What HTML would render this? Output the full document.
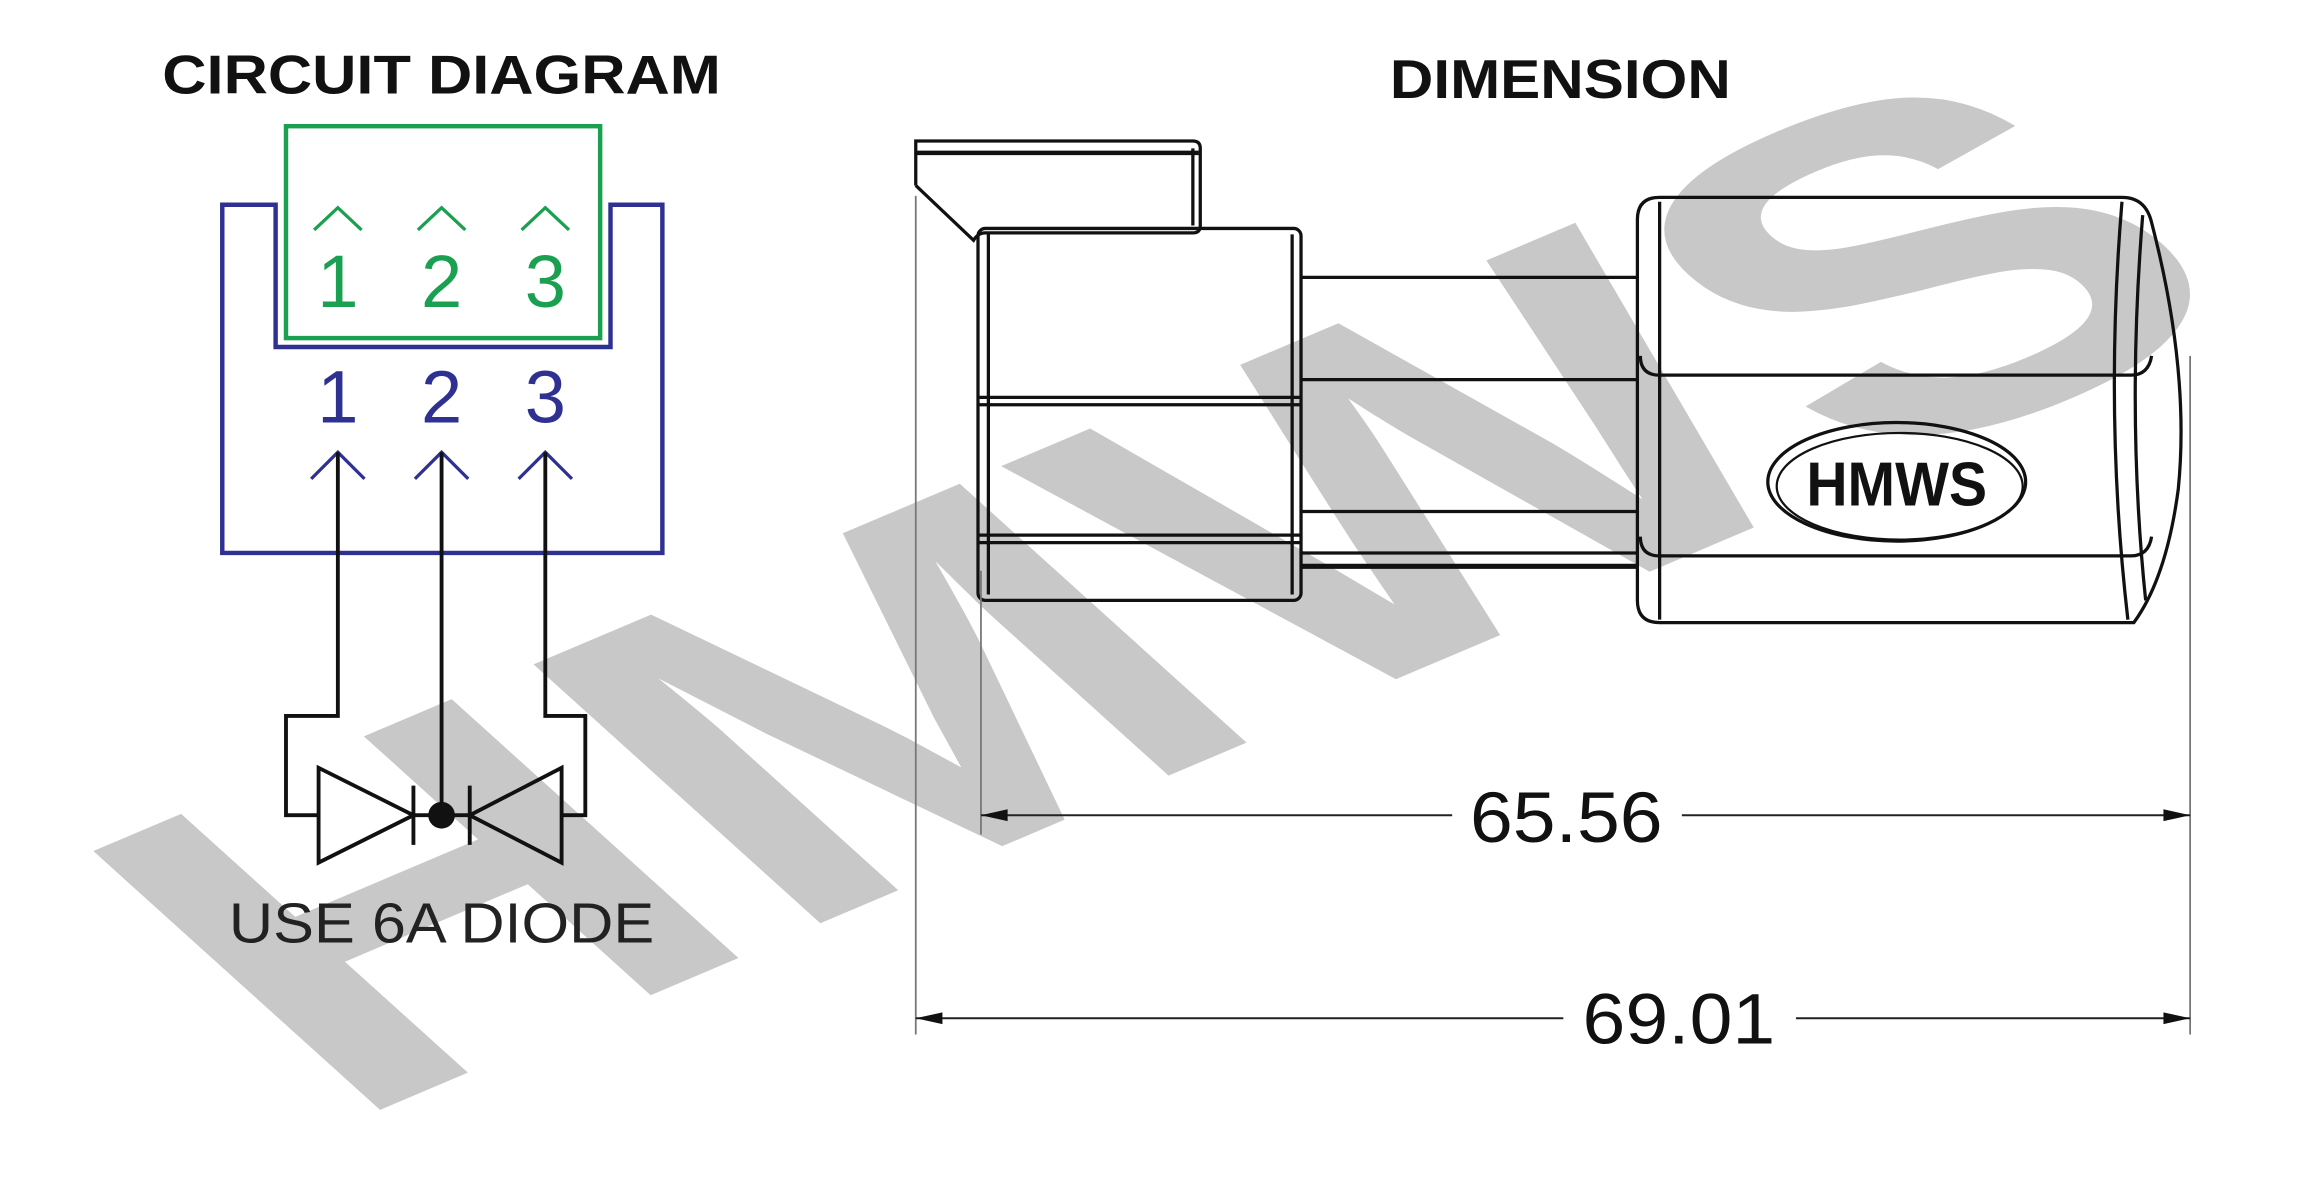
<!DOCTYPE html>
<html><head><meta charset="utf-8"><style>
html,body{margin:0;padding:0;background:#fff;}
svg{display:block;}
</style></head><body>
<svg width="2322" height="1180" viewBox="0 0 1567 796" xmlns="http://www.w3.org/2000/svg">
<rect width="1567" height="796" fill="#fff"/>
<!-- watermark -->
<g transform="scale(1.0222)">
<text transform="matrix(0.92 -0.39 0.637 0.575 224 744)" font-family="Liberation Sans, sans-serif" font-weight="bold" font-size="432" fill="#c8c8c8" textLength="1385" lengthAdjust="spacingAndGlyphs">HMWS</text>
</g>

<!-- titles -->
<text x="298" y="63" text-anchor="middle" font-family="Liberation Sans, sans-serif" font-weight="bold" font-size="37" fill="#111" textLength="377" lengthAdjust="spacingAndGlyphs">CIRCUIT DIAGRAM</text>
<text x="1053" y="66" text-anchor="middle" font-family="Liberation Sans, sans-serif" font-weight="bold" font-size="37" fill="#111" textLength="230" lengthAdjust="spacingAndGlyphs">DIMENSION</text>

<!-- circuit -->
<path d="M150 138 H186 V234 H412 V138 H447 V373 H150 Z" fill="none" stroke="#2e3192" stroke-width="3"/>
<rect x="193" y="85" width="212" height="143" fill="none" stroke="#1aa050" stroke-width="3"/>
<g fill="none" stroke="#1aa050" stroke-width="2.2">
<path d="M212 155 L228 140 L244 155"/><path d="M282 155 L298 140 L314 155"/><path d="M352 155 L368 140 L384 155"/>
</g>
<g font-family="Liberation Sans, sans-serif" font-size="50" fill="#1aa050" text-anchor="middle">
<text x="228" y="207">1</text><text x="298" y="207">2</text><text x="368" y="207">3</text>
</g>
<g font-family="Liberation Sans, sans-serif" font-size="50" fill="#2e3192" text-anchor="middle">
<text x="228" y="285">1</text><text x="298" y="285">2</text><text x="368" y="285">3</text>
</g>
<g fill="none" stroke="#2e3192" stroke-width="2.2">
<path d="M210 323 L228 305 L246 323"/><path d="M280 323 L298 305 L316 323"/><path d="M350 323 L368 305 L386 323"/>
</g>
<g fill="none" stroke="#111" stroke-width="2.6">
<path d="M228 305 V483 H193 V550 H215"/>
<path d="M298 305 V550"/>
<path d="M368 305 V483 H395 V550 H379"/>
<path d="M215 518 V582 L279 550 Z"/>
<path d="M279 530 V570"/>
<path d="M379 518 V582 L317 550 Z"/>
<path d="M317 530 V570"/>
<path d="M279 550 H317"/>
</g>
<circle cx="298" cy="550" r="9" fill="#111"/>
<text x="298" y="636" text-anchor="middle" font-family="Liberation Sans, sans-serif" font-size="38" fill="#222" textLength="287" lengthAdjust="spacingAndGlyphs">USE 6A DIODE</text>

<!-- dimension drawing -->
<g fill="none" stroke="#111" stroke-width="2.2">
<path d="M618 125 V95 H805 Q810 95 810 100 V152 Q810 157 805 157 H665 Q660 157 657 162 L618 125"/>
<path d="M618 103 H809" stroke-width="3"/>
<path d="M805 100 V152"/>
<rect x="660" y="154" width="218" height="251" rx="5"/>
<path d="M667 158 V401 M872 158 V401"/>
<path d="M661 268 H877 M661 273 H877"/>
<path d="M661 361 H877 M661 366 H877"/>
<path d="M878 187 H1105 M878 256 H1105 M878 345 H1105 M878 373 H1105"/>
<path d="M878 382 H1105" stroke-width="3.5"/>
<path d="M1120 133 H1432 Q1448 133 1452 150 Q1478 250 1470 330 Q1462 390 1440 420 H1120 Q1105 420 1105 405 V148 Q1105 133 1120 133 Z"/>
<path d="M1120 136 V418"/>
<path d="M1107 240 Q1107 253 1120 253 H1438 Q1450 253 1452 240"/>
<path d="M1107 362 Q1107 375 1120 375 H1438 Q1450 375 1452 362"/>
<path d="M1432 136 Q1420 280 1436 418"/>
<path d="M1446 145 Q1435 280 1448 405"/>
<ellipse cx="1280" cy="325" rx="87" ry="40"/>
<ellipse cx="1282" cy="328" rx="83" ry="36" stroke-width="1.5"/>
</g>
<text x="1280" y="341" text-anchor="middle" font-family="Liberation Sans, sans-serif" font-weight="bold" font-size="42" fill="#111" textLength="122" lengthAdjust="spacingAndGlyphs">HMWS</text>

<!-- dimension lines -->
<g stroke="#777" stroke-width="1.2" fill="none">
<path d="M618 132 V698 M662 385 V563 M1478 240 V698"/>
</g>
<g stroke="#222" stroke-width="1.3" fill="none">
<path d="M662 550 H980 M1135 550 H1478"/>
<path d="M618 687 H1055 M1212 687 H1478"/>
</g>
<g fill="#111">
<path d="M662 550 L680 546 L680 554 Z"/><path d="M1478 550 L1460 546 L1460 554 Z"/>
<path d="M618 687 L636 683 L636 691 Z"/><path d="M1478 687 L1460 683 L1460 691 Z"/>
</g>
<g font-family="Liberation Sans, sans-serif" font-size="48" fill="#111" text-anchor="middle">
<text x="1057" y="568" textLength="130" lengthAdjust="spacingAndGlyphs">65.56</text>
<text x="1133" y="704" textLength="130" lengthAdjust="spacingAndGlyphs">69.01</text>
</g>
</svg>
</body></html>
